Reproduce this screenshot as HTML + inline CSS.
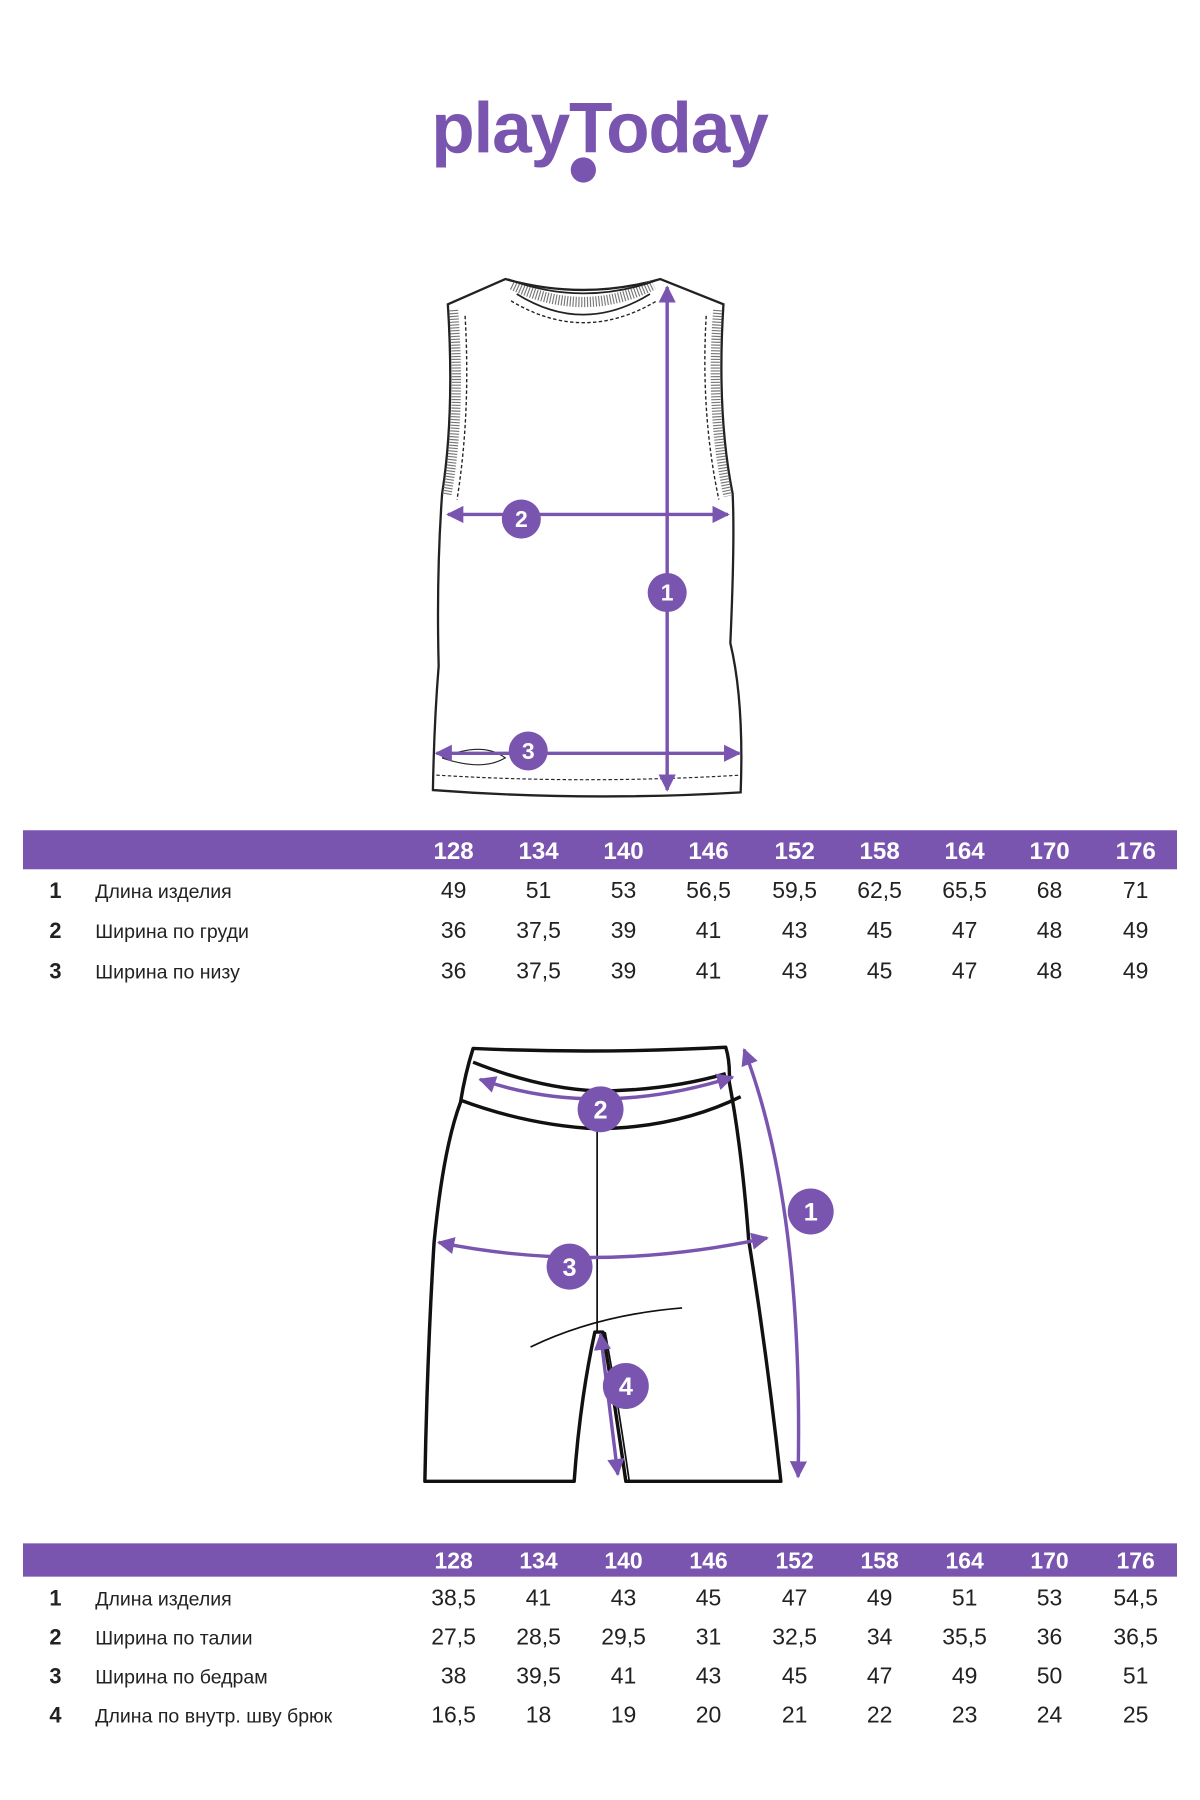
<!DOCTYPE html>
<html><head><meta charset="utf-8"><style>
html,body{margin:0;padding:0;background:#fff;}
svg{display:block}
text{font-family:"Liberation Sans",sans-serif;}
</style></head><body>
<svg width="1200" height="1800" viewBox="0 0 1045 1567.5" xmlns="http://www.w3.org/2000/svg">
<defs>
<marker id="ah" viewBox="0 0 10 10" refX="9" refY="5" markerWidth="5" markerHeight="5" orient="auto-start-reverse"><path d="M0,0L10,5L0,10z" fill="#7a55b0"/></marker>
</defs>
<!-- logo -->
<text x="522" y="133" text-anchor="middle" font-size="62" font-weight="bold" fill="#7a55b0" letter-spacing="-1">playToday</text>
<circle cx="508" cy="148" r="11" fill="#7a55b0"/>

<!-- vest -->
<g fill="none" stroke="#222" stroke-width="2">
<path d="M390,265 L440,243 Q508,262 575,243 L630,265 Q624,360 638,430 Q640,470 636,560 Q648,610 645,690 Q510,698 377,688 Q378,630 382,580 Q380,500 385,430 Q396,360 390,265 Z"/>
<path d="M446,248 Q508,278 569,248" stroke="#777" stroke-width="9" stroke-dasharray="1,1.5"/>
<path d="M442,243 Q508,268 575,243" stroke-width="1.5"/>
<path d="M450,256 Q508,292 566,256" stroke-width="1.5"/>
<path d="M445,262 Q508,300 572,262" stroke-width="1.2" stroke-dasharray="3,2"/>
<path d="M395,270 Q402,360 389,432" stroke="#777" stroke-width="8" stroke-dasharray="1,1.5"/>
<path d="M625,270 Q618,360 634,432" stroke="#777" stroke-width="8" stroke-dasharray="1,1.5"/>
<path d="M405,275 Q410,360 398,435" stroke-width="1.2" stroke-dasharray="3,2"/>
<path d="M615,275 Q610,360 626,435" stroke-width="1.2" stroke-dasharray="3,2"/>
<path d="M380,675 Q510,683 645,675" stroke-width="1" stroke-dasharray="3,2"/>
<path d="M385,660 Q420,645 440,660 Q420,672 385,660" stroke-width="1"/>
</g>
<g stroke="#7a55b0" stroke-width="3" fill="none">
<line x1="581" y1="250" x2="581" y2="688" marker-start="url(#ah)" marker-end="url(#ah)"/>
<line x1="390" y1="448" x2="634" y2="448" marker-start="url(#ah)" marker-end="url(#ah)"/>
<line x1="380" y1="656" x2="644" y2="656" marker-start="url(#ah)" marker-end="url(#ah)"/>
</g>
<g fill="#7a55b0"><circle cx="581" cy="516" r="17"/><circle cx="454" cy="452" r="17"/><circle cx="460" cy="654" r="17"/></g>
<g fill="#fff" font-size="20" font-weight="bold" text-anchor="middle">
<text x="581" y="523">1</text><text x="454" y="459">2</text><text x="460" y="661">3</text></g>

<!-- table 1 -->
<rect x="20" y="723" width="1005" height="34" fill="#7a55b0"/>
<g fill="#fff" font-size="21" font-weight="bold" text-anchor="middle">
<text x="395" y="748">128</text><text x="469" y="748">134</text><text x="543" y="748">140</text><text x="617" y="748">146</text><text x="692" y="748">152</text><text x="766" y="748">158</text><text x="840" y="748">164</text><text x="914" y="748">170</text><text x="989" y="748">176</text></g>
<g font-size="19" fill="#222">
<text x="43" y="782" font-weight="bold">1</text><text x="83" y="782" font-size="17">Длина изделия</text>
<text x="43" y="817" font-weight="bold">2</text><text x="83" y="817" font-size="17">Ширина по груди</text>
<text x="43" y="852" font-weight="bold">3</text><text x="83" y="852" font-size="17">Ширина по низу</text>
</g>
<g font-size="20" fill="#222" text-anchor="middle">
<text x="395" y="782">49</text><text x="469" y="782">51</text><text x="543" y="782">53</text><text x="617" y="782">56,5</text><text x="692" y="782">59,5</text><text x="766" y="782">62,5</text><text x="840" y="782">65,5</text><text x="914" y="782">68</text><text x="989" y="782">71</text>
<text x="395" y="817">36</text><text x="469" y="817">37,5</text><text x="543" y="817">39</text><text x="617" y="817">41</text><text x="692" y="817">43</text><text x="766" y="817">45</text><text x="840" y="817">47</text><text x="914" y="817">48</text><text x="989" y="817">49</text>
<text x="395" y="852">36</text><text x="469" y="852">37,5</text><text x="543" y="852">39</text><text x="617" y="852">41</text><text x="692" y="852">43</text><text x="766" y="852">45</text><text x="840" y="852">47</text><text x="914" y="852">48</text><text x="989" y="852">49</text>
</g>

<!-- shorts -->
<g fill="none" stroke="#111" stroke-width="3" stroke-linejoin="round">
<path d="M412,913 Q520,918 632,912 Q636,925 635,942 Q646,1000 652,1080 Q668,1180 680,1290 L580,1290 L545,1290 Q535,1220 525,1160 L518,1160 Q505,1220 500,1290 L370,1290 Q372,1180 378,1082 Q386,1000 401,960 Q405,935 412,913 Z"/>
<path d="M412,925 Q470,948 520,950 Q580,950 632,935"/>
<path d="M401,958 Q460,980 520,983 Q590,982 645,955"/>
<path d="M520,983 L520,1160" stroke-width="1.5"/>
<path d="M462,1173 Q520,1145 594,1139" stroke-width="1.5"/>
<path d="M527,1160 Q538,1220 548,1290" stroke-width="1.5"/>
</g>
<g stroke="#7a55b0" stroke-width="3" fill="none">
<path d="M418,940 Q520,975 638,938" marker-start="url(#ah)" marker-end="url(#ah)"/>
<path d="M382,1082 Q520,1110 668,1078" marker-start="url(#ah)" marker-end="url(#ah)"/>
<path d="M648,914 Q700,1050 695,1286" marker-start="url(#ah)" marker-end="url(#ah)"/>
<path d="M523,1162 L538,1284" marker-start="url(#ah)" marker-end="url(#ah)"/>
</g>
<g fill="#7a55b0"><circle cx="523" cy="966" r="20"/><circle cx="496" cy="1103" r="20"/><circle cx="706" cy="1055" r="20"/><circle cx="545" cy="1207" r="20"/></g>
<g fill="#fff" font-size="22" font-weight="bold" text-anchor="middle">
<text x="523" y="974">2</text><text x="496" y="1111">3</text><text x="706" y="1063">1</text><text x="545" y="1215">4</text></g>

<!-- table 2 -->
<rect x="20" y="1344" width="1005" height="29" fill="#7a55b0"/>
<g fill="#fff" font-size="20" font-weight="bold" text-anchor="middle">
<text x="395" y="1366">128</text><text x="469" y="1366">134</text><text x="543" y="1366">140</text><text x="617" y="1366">146</text><text x="692" y="1366">152</text><text x="766" y="1366">158</text><text x="840" y="1366">164</text><text x="914" y="1366">170</text><text x="989" y="1366">176</text></g>
<g font-size="19" fill="#222">
<text x="43" y="1398" font-weight="bold">1</text><text x="83" y="1398" font-size="17">Длина изделия</text>
<text x="43" y="1432" font-weight="bold">2</text><text x="83" y="1432" font-size="17">Ширина по талии</text>
<text x="43" y="1466" font-weight="bold">3</text><text x="83" y="1466" font-size="17">Ширина по бедрам</text>
<text x="43" y="1500" font-weight="bold">4</text><text x="83" y="1500" font-size="17">Длина по внутр. шву брюк</text>
</g>
<g font-size="20" fill="#222" text-anchor="middle">
<text x="395" y="1398">38,5</text><text x="469" y="1398">41</text><text x="543" y="1398">43</text><text x="617" y="1398">45</text><text x="692" y="1398">47</text><text x="766" y="1398">49</text><text x="840" y="1398">51</text><text x="914" y="1398">53</text><text x="989" y="1398">54,5</text>
<text x="395" y="1432">27,5</text><text x="469" y="1432">28,5</text><text x="543" y="1432">29,5</text><text x="617" y="1432">31</text><text x="692" y="1432">32,5</text><text x="766" y="1432">34</text><text x="840" y="1432">35,5</text><text x="914" y="1432">36</text><text x="989" y="1432">36,5</text>
<text x="395" y="1466">38</text><text x="469" y="1466">39,5</text><text x="543" y="1466">41</text><text x="617" y="1466">43</text><text x="692" y="1466">45</text><text x="766" y="1466">47</text><text x="840" y="1466">49</text><text x="914" y="1466">50</text><text x="989" y="1466">51</text>
<text x="395" y="1500">16,5</text><text x="469" y="1500">18</text><text x="543" y="1500">19</text><text x="617" y="1500">20</text><text x="692" y="1500">21</text><text x="766" y="1500">22</text><text x="840" y="1500">23</text><text x="914" y="1500">24</text><text x="989" y="1500">25</text>
</g>
</svg>
</body></html>
